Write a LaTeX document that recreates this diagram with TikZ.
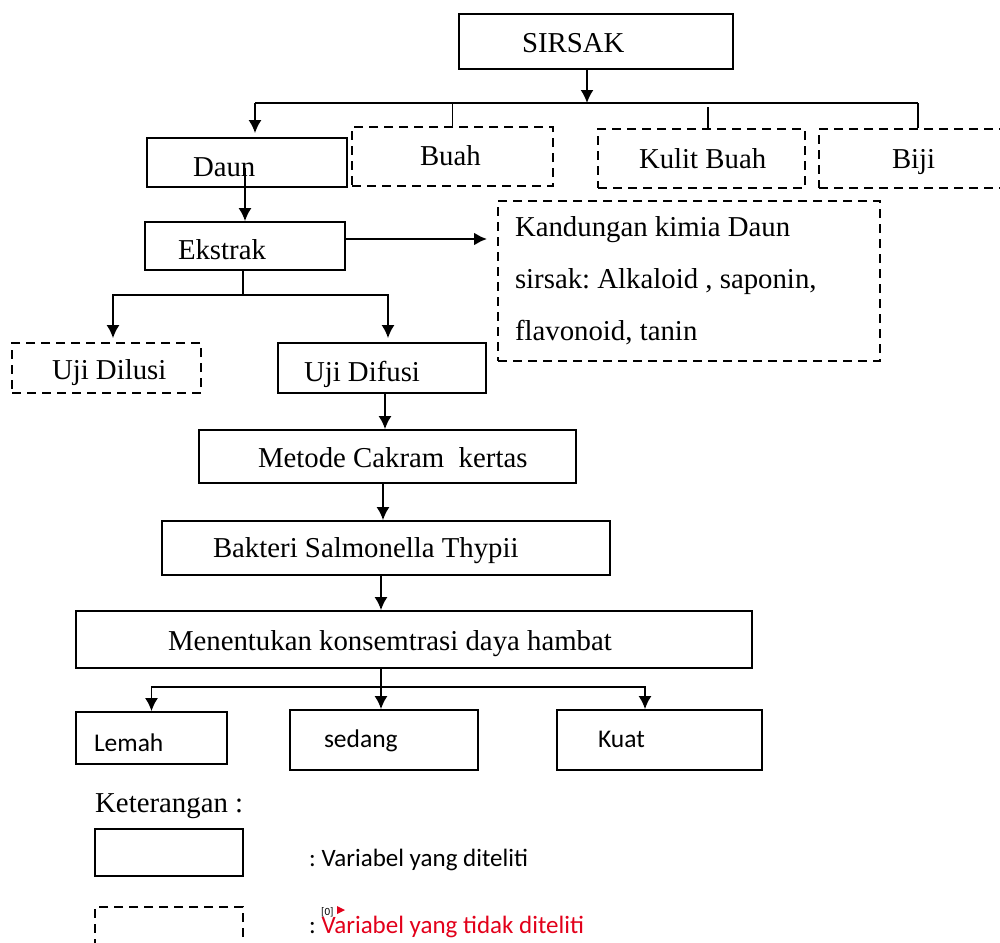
\documentclass[tikz,border=0pt]{standalone}
\usepackage{fontspec}
\setmainfont{Liberation Serif}
\newfontfamily\calibri{Carlito}
\usetikzlibrary{arrows.meta}
\definecolor{notered}{RGB}{226,0,26}
\frenchspacing

\begin{document}
\begin{tikzpicture}[x=1pt, y=-1pt, >={Latex[length=13pt,width=13pt]},
        line/.style={line width=1.8pt},
        box/.style={draw, rectangle, line width=1.8pt, inner sep=0pt, align=flush left, text height=24pt, text depth=2pt, font=\fontsize{28.8}{34}\selectfont},
        dashbox/.style={box, dash pattern=on 9pt off 6pt},
        sansbox/.style={box, text height=20pt, text depth=6pt, font=\calibri\fontsize{25.5}{30}\selectfont},
        keytext/.style={anchor=base west, inner sep=0pt, font=\calibri\fontsize{25}{30}\selectfont}]

        \useasboundingbox (0,0) rectangle (1000,942);

        \node (sirsak) [box, text width=274pt, minimum height=55pt] at (596,41.5) {\hspace*{63pt}SIRSAK};
        \node (daun) [box, text height=28pt, text depth=0pt, text width=200pt, minimum height=49pt] at (247,162.5) {\hspace*{46pt}Daun};
        \node (buah) [dashbox, text height=22pt, text depth=4pt, text width=201pt, minimum height=59pt] at (452.5,156.5) {\hspace*{68pt}Buah};
        \node (kulit) [dashbox, text height=23pt, text depth=3pt, text width=207pt, minimum height=59pt] at (701.5,158.5) {\hspace*{41pt}Kulit Buah};
        \node (biji) [dashbox, text height=23pt, text depth=3pt, text width=200pt, minimum height=59pt] at (919,158.5) {\hspace*{73pt}Biji};

        \node (ekstrak) [box, text height=27pt, text depth=1pt, text width=200pt, minimum height=48pt] at (245,246) {\hspace*{33pt}Ekstrak};
        \node (kandungan) [draw, rectangle, line width=1.8pt, dash pattern=on 9pt off 6pt, align=flush left, text width=348pt, inner xsep=17pt, inner ysep=0pt, minimum height=160pt, font=\fontsize{28.8}{52}\selectfont] at (689,281) {Kandungan kimia Daun\\sirsak: Alkaloid , saponin,\\flavonoid, tanin};

        \node (dilusi) [dashbox, text width=189pt, minimum height=50pt] at (106.5,368) {\hspace*{40pt}Uji Dilusi};
        \node (difusi) [box, text height=27pt, text depth=1pt, text width=208pt, minimum height=50pt] at (382,368) {\hspace*{26pt}Uji Difusi};
        \node (metode) [box, text width=377pt, minimum height=53pt] at (387.5,456.5) {\hspace*{59pt}Metode Cakram\ \ kertas};
        \node (bakteri) [box, text height=22pt, text depth=4pt, text width=448pt, minimum height=54pt] at (386,548) {\hspace*{51pt}Bakteri Salmonella Thypii};
        \node (menentukan) [box, text width=676pt, minimum height=57pt] at (414,639.5) {\hspace*{92pt}Menentukan konsemtrasi daya hambat};

        \node (lemah) [sansbox, text height=26pt, text depth=0pt, text width=151pt, minimum height=52pt] at (151.5,738) {\hspace*{18pt}Lemah};
        \node (sedang) [sansbox, text width=188pt, minimum height=60pt] at (384,740) {\hspace*{34pt}sedang};
        \node (kuat) [sansbox, text width=205pt, minimum height=60pt] at (659.5,740) {\hspace*{41pt}Kuat};

        % keterangan
        \node (keterangan) [anchor=base west, inner sep=0pt, font=\fontsize{28.8}{34}\selectfont] at (95,812) {Keterangan :};
        \node (solidkey) [box, text width=148pt, minimum height=47pt] at (169,852.5) {};
        \node (solidtext) [keytext] at (309,866) {: Variabel yang diteliti};
        \node (dashkey) [dashbox, text width=148pt, minimum height=47pt] at (169,930.5) {};
        \node (dashtext) [keytext] at (309,933) {: \textcolor{notered}{Variabel yang tidak diteliti}};
        \node (notemark) [anchor=base west, inner sep=0pt, font=\calibri\fontsize{11}{12}\selectfont] at (321,915) {[0]};
        \fill[notered] (337,906) -- (345,910) -- (337,914) -- cycle;

        \coordinate (split1) at (587,103);
        \coordinate (barL) at (255,103);
        \coordinate (barR) at (918,103);
        \coordinate (split2) at (243,295);
        \coordinate (split3) at (381,687);

        \draw[->, line] (sirsak.south -| split1) -- (split1);
        \draw[line] (barL) -- (barR);
        \draw[->, line, shorten >=4pt] (barL) -- (barL |- daun.north);
        \draw[line] (buah.north) -- (buah.north |- barL);
        \draw[line] ([xshift=6.5pt]kulit.north) -- ([xshift=6.5pt, yshift=-4pt]kulit.north |- barL);
        \draw[line] (barR) -- (barR |- biji.north);

        \draw[->, line] ([yshift=-5pt]daun.center -| ekstrak.north) -- (ekstrak.north);
        \draw[->, line width=2.6pt, shorten >=10pt] ([yshift=7pt]ekstrak.east) -- ([yshift=7pt]ekstrak.east -| kandungan.west);

        \draw[line] (ekstrak.south -| split2) -- (split2);
        \draw[->, line, shorten >=4pt] (split2) -| ([xshift=6.5pt]dilusi.north);
        \draw[->, line, shorten >=4pt] (split2) -| ([xshift=6pt]difusi.north);

        \draw[->, line] ([xshift=3pt]difusi.south) -- ([xshift=3pt]difusi.south |- metode.north);
        \draw[->, line] ([xshift=-4.5pt]metode.south) -- ([xshift=-4.5pt]metode.south |- bakteri.north);
        \draw[->, line] ([xshift=-5pt]bakteri.south) -- ([xshift=-5pt]bakteri.south |- menentukan.north);

        \draw[->, line] (menentukan.south -| split3) -- (split3 |- sedang.north);
        \draw[->, line] (split3) -| (lemah.north);
        \draw[->, line] (split3) -| ([xshift=-14.5pt]kuat.north);
    \end{tikzpicture}
\end{document}
